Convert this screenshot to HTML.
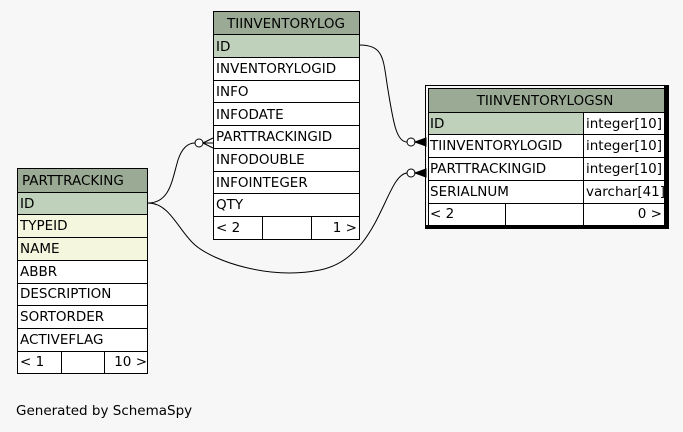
<!DOCTYPE html>
<html><head><style>
html,body{margin:0;padding:0;background:#f7f7f7;}
svg{display:block;}
text{font-family:"DejaVu Sans","Liberation Sans",sans-serif;font-size:13.5px;fill:#000;}
</style></head><body>
<svg width="683" height="432" viewBox="0 0 683 432" xmlns="http://www.w3.org/2000/svg">
<rect width="683" height="432" fill="#f7f7f7"/>
<g fill="none" stroke="#000" stroke-width="1">
<path d="M359,45 C385,45 383,60 388,90 C393,120 396,142 407,142"/>
<path d="M148,203 C170,203 172,180 178,160 C182,148 188,143 195,143"/>
<path d="M148,203 C170,203 178,230 195,245 C215,262 270,280 320,270 C380,258 385,175 407,173"/>
</g>
<g fill="#fff" stroke="#000">
<circle cx="411" cy="142" r="4"/>
<circle cx="199" cy="143" r="4"/>
<circle cx="411" cy="173" r="4"/>
</g>
<g fill="#000" stroke="#000">
<path d="M415,142 L426,138 L426,146 Z"/>
<path d="M415,173 L426,169 L426,177 Z"/>
<path d="M203,143 L213,138 M203,143 L213,143 M203,143 L213,148" fill="none"/>
</g>

<g stroke="#000" stroke-width="1">
<rect x="213.5" y="11.5" width="146" height="23" fill="#9baa95"/>
<rect x="213.5" y="34.5" width="146" height="23" fill="#bfd1bb"/>
<rect x="213.5" y="57.5" width="146" height="182" fill="#fff"/>
<path d="M213.5,80.5H359.5M213.5,102.5H359.5M213.5,125.5H359.5M213.5,148.5H359.5M213.5,171.5H359.5M213.5,193.5H359.5M213.5,216.5H359.5M262.5,216.5V239.5M311.5,216.5V239.5" fill="none"/>
</g>
<text x="286" y="28" text-anchor="middle">TIINVENTORYLOG</text>
<text x="216" y="51">ID</text>
<text x="216" y="73">INVENTORYLOGID</text>
<text x="216" y="96">INFO</text>
<text x="216" y="119">INFODATE</text>
<text x="216" y="141">PARTTRACKINGID</text>
<text x="216" y="164">INFODOUBLE</text>
<text x="216" y="187">INFOINTEGER</text>
<text x="216" y="209">QTY</text>
<text x="216" y="232">&lt; 2</text>
<text x="357" y="232" text-anchor="end">1 &gt;</text>

<rect x="425.5" y="85.5" width="243" height="143" fill="none" stroke="#000" stroke-width="1"/>
<rect x="664" y="86" width="4" height="142" fill="#000"/>
<rect x="426" y="225" width="242" height="3" fill="#000"/>
<g stroke="#000" stroke-width="1">
<rect x="428.5" y="88.5" width="236" height="24" fill="#9baa95"/>
<rect x="428.5" y="112.5" width="155" height="22" fill="#bfd1bb"/>
<rect x="583.5" y="112.5" width="81" height="22" fill="#fff"/>
<rect x="428.5" y="134.5" width="236" height="91" fill="#fff"/>
<path d="M428.5,157.5H664.5M428.5,180.5H664.5M428.5,203.5H664.5M583.5,134.5V225.5M505.5,203.5V225.5" fill="none"/>
</g>
<text x="545" y="105" text-anchor="middle">TIINVENTORYLOGSN</text>
<text x="430" y="128">ID</text>
<text x="430" y="150">TIINVENTORYLOGID</text>
<text x="430" y="173">PARTTRACKINGID</text>
<text x="430" y="196">SERIALNUM</text>
<text x="430" y="218">&lt; 2</text>
<text x="662" y="218" text-anchor="end">0 &gt;</text>
<svg x="584" y="112" width="80" height="92" overflow="hidden">
<text x="2" y="16">integer[10]</text>
<text x="2" y="38">integer[10]</text>
<text x="2" y="61">integer[10]</text>
<text x="2" y="84">varchar[41]</text>
</svg>

<g stroke="#000" stroke-width="1">
<rect x="17.5" y="168.5" width="130" height="24" fill="#9baa95"/>
<rect x="17.5" y="192.5" width="130" height="22" fill="#bfd1bb"/>
<rect x="17.5" y="214.5" width="130" height="46" fill="#f4f7dd"/>
<rect x="17.5" y="260.5" width="130" height="113" fill="#fff"/>
<path d="M17.5,237.5H147.5M17.5,283.5H147.5M17.5,305.5H147.5M17.5,328.5H147.5M17.5,351.5H147.5M61.5,351.5V373.5M104.5,351.5V373.5" fill="none"/>
</g>
<text x="22" y="185">PARTTRACKING</text>
<text x="20" y="208">ID</text>
<text x="20" y="230">TYPEID</text>
<text x="20" y="253">NAME</text>
<text x="20" y="276">ABBR</text>
<text x="20" y="298">DESCRIPTION</text>
<text x="20" y="321">SORTORDER</text>
<text x="20" y="344">ACTIVEFLAG</text>
<text x="20" y="366">&lt; 1</text>
<text x="147" y="366" text-anchor="end">10 &gt;</text>

<text x="16" y="415">Generated by SchemaSpy</text>
</svg>
</body></html>
